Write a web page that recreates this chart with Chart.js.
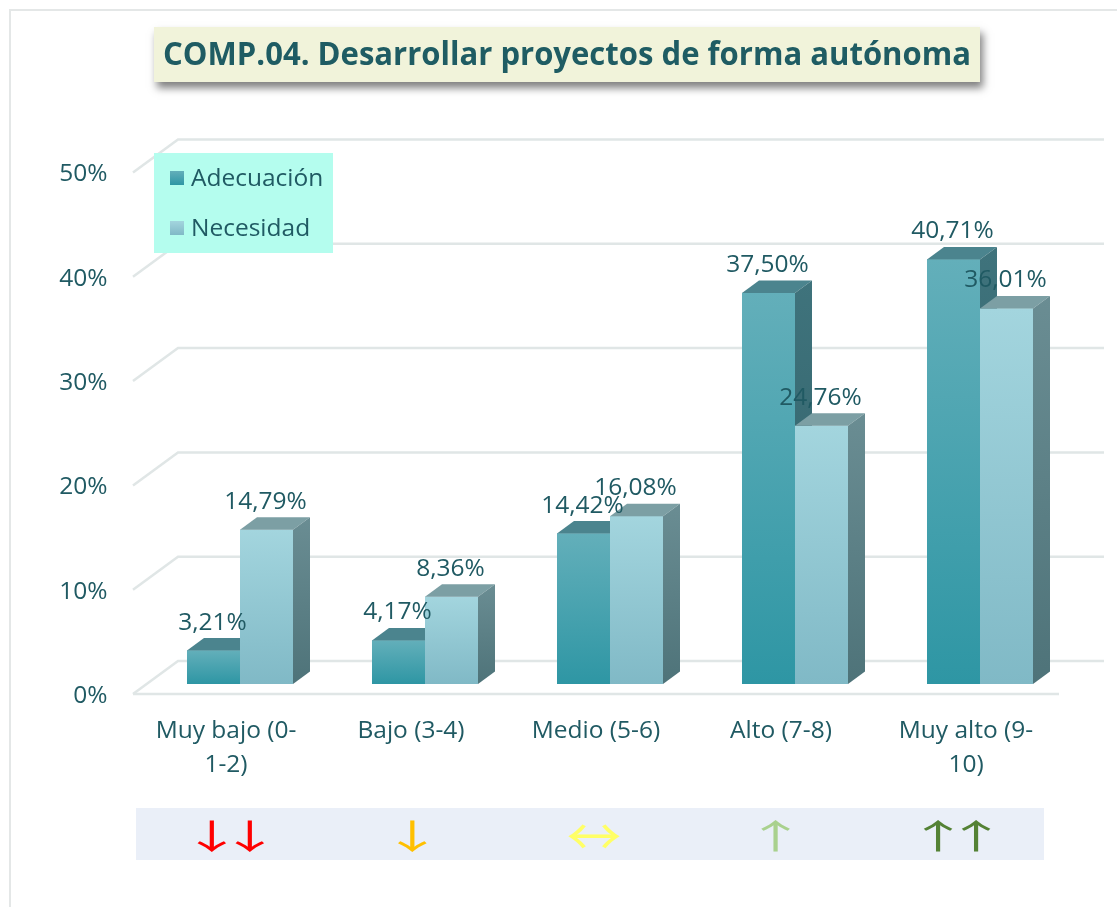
<!DOCTYPE html>
<html>
<head>
<meta charset="utf-8">
<title>COMP.04</title>
<script src="https://cdn.jsdelivr.net/npm/chart.js@4.4.0/dist/chart.umd.min.js"></script>
<style>
  html, body { margin: 0; padding: 0; background: #fff; }
  canvas { display: block; }
</style>
</head>
<body>
<canvas id="comp04" width="1117" height="907"></canvas>
<script>
const titleText = "COMP.04. Desarrollar proyectos de forma autónoma";
const categories = [["Muy bajo (0-", "1-2)"], "Bajo (3-4)", "Medio (5-6)", "Alto (7-8)", ["Muy alto (9-", "10)"]];
const adecuacion = [3.21, 4.17, 14.42, 37.50, 40.71];
const necesidad = [14.79, 8.36, 16.08, 24.76, 36.01];
const yTicks = [0, 10, 20, 30, 40, 50];
const arrows = ["↓↓", "↓", "↔", "↑", "↑↑"];
const arrowColors = ["#ff0000", "#ffc000", "#ffff66", "#a9d18e", "#548235"];

const TEXT = "#205a63";
const FONT = "'Open Sans', 'Noto Sans', sans-serif";
const DX = 17, DY = -12.5; // depth of the bars
const faces = [
  { front: ["#63afba", "#2e96a4"], top: "#4b848e", side: ["#3f737c", "#2f5f67"] },
  { front: ["#a3d5de", "#80b9c6"], top: "#7c9fa4", side: ["#6a8d93", "#4e7379"] }
];

function fmt(v) {
  return v.toFixed(2).replace(".", ",") + "%";
}

function vGrad(ctx, y0, y1, c) {
  const g = ctx.createLinearGradient(0, y0, 0, y1);
  g.addColorStop(0, c[0]);
  g.addColorStop(1, c[1]);
  return g;
}

// text stretched horizontally by k
function wideText(ctx, s, cx, cy, k) {
  ctx.save();
  ctx.translate(cx, cy);
  ctx.scale(k, 1);
  ctx.fillText(s, 0, 0);
  ctx.restore();
}

const look3d = {
  id: "look3d",
  beforeDraw(chart) {
    const { ctx, chartArea: a } = chart;
    const y = chart.scales.y;
    ctx.save();
    ctx.fillStyle = "#fff";
    ctx.fillRect(0, 0, chart.width, chart.height);

    // outer frame
    ctx.strokeStyle = "#e4e7e7";
    ctx.lineWidth = 2;
    ctx.beginPath();
    ctx.moveTo(10, chart.height);
    ctx.lineTo(10, 10);
    ctx.lineTo(chart.width, 10);
    ctx.stroke();

    // back wall, left wall and floor
    ctx.strokeStyle = "#e0e6e6";
    ctx.lineWidth = 2.5;
    yTicks.forEach(v => {
      const p = y.getPixelForValue(v);
      ctx.beginPath();
      ctx.moveTo(a.left - 14.5, p + 10);
      ctx.lineTo(a.left + 30.5, p - 23);
      ctx.lineTo(a.right + 31.5, p - 23);
      ctx.stroke();
    });
    const p0 = y.getPixelForValue(0);
    ctx.beginPath();
    ctx.moveTo(a.left - 14.5, p0 + 10);
    ctx.lineTo(a.right - 13.5, p0 + 10);
    ctx.stroke();

    // title box
    ctx.save();
    ctx.shadowColor = "rgba(0,0,0,0.5)";
    ctx.shadowBlur = 8;
    ctx.shadowOffsetX = 3;
    ctx.shadowOffsetY = 6;
    ctx.fillStyle = "#f1f3da";
    ctx.fillRect(154, 27, 826, 55);
    ctx.restore();
    ctx.font = "bold 32px " + FONT;
    ctx.fillStyle = "#1f5c63";
    ctx.textAlign = "center";
    ctx.textBaseline = "middle";
    wideText(ctx, titleText, 567, 56, 808 / ctx.measureText(titleText).width);
    ctx.restore();
  },
  afterDatasetsDraw(chart) {
    const ctx = chart.ctx;
    const metas = chart.data.datasets.map((d, i) => chart.getDatasetMeta(i));
    ctx.save();
    for (let i = 0; i < categories.length; i++) {
      metas.forEach((m, d) => {
        const bar = m.data[i];
        const L = bar.x - bar.width / 2, R = bar.x + bar.width / 2;
        const T = bar.y, B = bar.base;
        const f = faces[d];
        ctx.fillStyle = vGrad(ctx, T, B, f.front);
        ctx.fillRect(L, T, R - L, B - T);
        ctx.fillStyle = f.top;
        ctx.beginPath();
        ctx.moveTo(L, T);
        ctx.lineTo(L + DX, T + DY);
        ctx.lineTo(R + DX, T + DY);
        ctx.lineTo(R, T);
        ctx.closePath();
        ctx.fill();
        ctx.fillStyle = vGrad(ctx, T + DY, B, f.side);
        ctx.beginPath();
        ctx.moveTo(R, T);
        ctx.lineTo(R + DX, T + DY);
        ctx.lineTo(R + DX, B + DY);
        ctx.lineTo(R, B);
        ctx.closePath();
        ctx.fill();
      });
    }
    // value labels
    ctx.font = "24.5px " + FONT;
    ctx.fillStyle = TEXT;
    ctx.textAlign = "center";
    ctx.textBaseline = "middle";
    metas.forEach((m, d) => {
      const values = chart.data.datasets[d].data;
      m.data.forEach((bar, i) => {
        ctx.fillText(fmt(values[i]), bar.x - 1, bar.y - 28);
      });
    });
    ctx.restore();
  },
  afterDraw(chart) {
    const { ctx, chartArea: a } = chart;
    const x = chart.scales.x;
    ctx.save();
    // legend
    ctx.fillStyle = "#b4fdee";
    ctx.fillRect(154, 153, 179, 100);
    ctx.font = "24.5px " + FONT;
    ctx.textAlign = "left";
    ctx.textBaseline = "middle";
    chart.data.datasets.forEach((ds, i) => {
      const cy = 178 + i * 50;
      ctx.fillStyle = vGrad(ctx, cy - 7, cy + 7, faces[i].front);
      ctx.fillRect(170, cy - 7, 14, 14);
      ctx.fillStyle = TEXT;
      ctx.fillText(ds.label, 191, cy + 1);
    });
    // arrow strip
    const x0 = a.left - 11.5, x1 = x.getPixelForValue(categories.length - 1) + 64;
    const top = a.bottom + 124;
    ctx.fillStyle = "#eaeff8";
    ctx.fillRect(x0, top, x1 - x0, 52);
    const w = (x1 - x0) / arrows.length;
    ctx.textAlign = "center";
    arrows.forEach((s, i) => {
      const chars = Array.from(s);
      const cx = x0 + (i + 0.5) * w + 4;
      ctx.fillStyle = arrowColors[i];
      chars.forEach((c, j) => {
        const px = cx + (j - (chars.length - 1) / 2) * 38;
        if (c === "↔") {
          ctx.font = "50px 'Noto Sans CJK JP', sans-serif";
          wideText(ctx, c, px, top + 28, 1.1);
        } else {
          ctx.font = "34px 'Noto Sans CJK JP', sans-serif";
          wideText(ctx, c, px, top + 28, 1.8);
        }
      });
    });
    ctx.restore();
  }
};

new Chart(document.getElementById("comp04"), {
  type: "bar",
  data: {
    labels: categories,
    datasets: [
      { label: "Adecuación", data: adecuacion, backgroundColor: faces[0].front[1], borderWidth: 0 },
      { label: "Necesidad", data: necesidad, backgroundColor: faces[1].front[1], borderWidth: 0 }
    ]
  },
  options: {
    responsive: false,
    animation: false,
    devicePixelRatio: 1,
    layout: { padding: { left: 0, right: 44.5, top: 162.5, bottom: 0 } },
    datasets: { bar: { barPercentage: 1, categoryPercentage: 0.573 } },
    plugins: { legend: { display: false }, title: { display: false }, tooltip: { enabled: false } },
    scales: {
      x: {
        grid: { display: false, drawTicks: false },
        border: { display: false },
        ticks: { color: TEXT, font: { family: FONT, size: 24.5, lineHeight: 1.39 }, padding: 30, labelOffset: -14, maxRotation: 0 },
        afterFit(scale) { scale.height = 223; }
      },
      y: {
        min: 0,
        max: 50,
        grid: { display: false, drawTicks: false },
        border: { display: false },
        afterBuildTicks(scale) { scale.ticks = yTicks.map(v => ({ value: v })); },
        ticks: { color: TEXT, font: { family: FONT, size: 24.5 }, padding: 40, labelOffset: 12, callback: v => v + "%" },
        afterFit(scale) { scale.width = 147.5; }
      }
    }
  },
  plugins: [look3d]
});
</script>
</body>
</html>
